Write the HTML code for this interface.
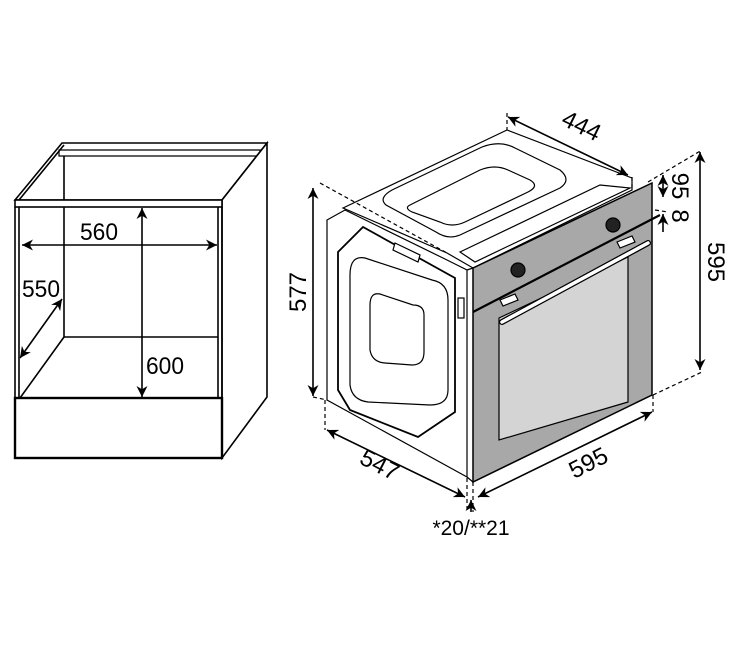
<!DOCTYPE html>
<html><head><meta charset="utf-8"><style>
html,body{margin:0;padding:0;background:#fff;}
svg{display:block;font-family:"Liberation Sans",Arial,sans-serif;}
</style></head><body>
<svg width="740" height="652" viewBox="0 0 740 652" xmlns="http://www.w3.org/2000/svg">
<defs>
<marker id="a" viewBox="0 0 10 10" refX="10" refY="5" markerWidth="12" markerHeight="11" orient="auto-start-reverse" markerUnits="userSpaceOnUse"><path d="M0,0 L10,5 L0,10 L3,5 Z" fill="#000"/></marker>
</defs>
<!-- Cabinet -->
<g fill="none" stroke="#000" stroke-width="1.6">
<polygon points="15,200 62,143 267,143 222,200" fill="#fff"/>
<line x1="19" y1="200" x2="64" y2="145"/>
<polygon points="59,150 260,150 260,156 59,156" stroke-width="1.2"/>
<line x1="64" y1="156" x2="64" y2="337"/>
<line x1="64" y1="337" x2="218" y2="337"/>
<line x1="64" y1="337" x2="20" y2="398"/>
<polygon points="222,200 267,143 267,397 222,458" fill="#fff"/>
<rect x="15" y="200" width="207" height="7" fill="#fff"/>
<line x1="15" y1="207" x2="15" y2="398"/>
<line x1="19" y1="207" x2="19" y2="398"/>
<line x1="222" y1="207" x2="222" y2="398"/>
<line x1="218" y1="207" x2="218" y2="398"/>
<rect x="15" y="398" width="207" height="60" stroke-width="2.4"/>
</g>
<g stroke="#000" stroke-width="1.6" fill="none">
<line x1="22" y1="245" x2="217" y2="245" marker-start="url(#a)" marker-end="url(#a)"/>
<line x1="142" y1="208" x2="142" y2="397" marker-start="url(#a)" marker-end="url(#a)"/>
<line x1="20" y1="358" x2="62" y2="299" marker-start="url(#a)" marker-end="url(#a)"/>
</g>
<g font-size="24" fill="#000">
<text x="80" y="240" textLength="38" lengthAdjust="spacingAndGlyphs">560</text>
<text x="22" y="297" textLength="38" lengthAdjust="spacingAndGlyphs">550</text>
<text x="146" y="374" textLength="38" lengthAdjust="spacingAndGlyphs">600</text>
</g>

<!-- Oven -->
<g stroke="#000" stroke-width="1.2" fill="#fff">
<polygon points="327,220 345,210 447,260 467,270 467,477 327,400"/>
<path d="M363,227 L338,252 L338,390 L350,410 L418,437 L455,412 L455,278 Z" fill="none" stroke-width="1.8"/>
<path d="M365,258 Q350,255 350,275 L350,385 Q352,400 368,402 L430,405 Q448,405 448,390 L448,300 Q448,283 432,280 Z" fill="none"/>
<path d="M380,294 Q370,292 370,305 L370,350 Q372,362 385,363 L412,365 Q424,365 424,352 L424,315 Q424,305 413,305 Z" fill="none"/>
<polygon points="395,243 420,255 418,262 393,250" fill="#fff"/>
<rect x="458" y="298" width="6" height="20"/>
<polygon points="343,208 507,130 632,178 632,190 473,268 447,253" />
<path d="M386,205 Q378,198 392,190 L482,147 Q500,140 515,148 L560,170 Q572,180 560,188 L460,235 Q448,240 436,232 Z" fill="none"/>
<path d="M410,205 L480,170 Q495,164 508,170 L530,180 Q540,186 528,192 L465,222 Q452,228 440,222 L412,212 Q404,208 410,205 Z" fill="none"/>
<polygon points="460,252 600,185 630,188 475,262" fill="#fff"/>
<polygon points="473,268 652,183 652,395 473,482" fill="#a8a8a8" stroke-width="1.5"/>
<polygon points="499,318 628,257 628,402 499,440" fill="#d4d4d4"/>
<line x1="473" y1="312" x2="660" y2="215" stroke-width="2.2"/>
<line x1="502" y1="322" x2="648" y2="243" stroke="#000" stroke-width="6" stroke-linecap="round"/>
<line x1="502" y1="322" x2="648" y2="243" stroke="#fff" stroke-width="3.5" stroke-linecap="round"/>
<polygon points="500,300 515,294 518,300 503,306" fill="#fff"/>
<polygon points="617,242 632,236 635,242 620,248" fill="#fff"/>
<circle cx="518" cy="270" r="7" fill="#222"/>
<circle cx="613" cy="225" r="7" fill="#222"/>
<line x1="467" y1="270" x2="473" y2="268"/>
<line x1="467" y1="477" x2="473" y2="482"/>
</g>
<g stroke="#000" stroke-width="1.2" fill="none" stroke-dasharray="4,3">
<line x1="320" y1="183" x2="447" y2="253"/>
<line x1="313" y1="397" x2="327" y2="400"/>
<line x1="325" y1="400" x2="325" y2="430"/>
<line x1="507" y1="113" x2="507" y2="130"/>
<line x1="632" y1="177" x2="632" y2="190"/>
<line x1="648" y1="182" x2="702" y2="150"/>
<line x1="653" y1="395" x2="702" y2="372"/>
<line x1="655" y1="210" x2="668" y2="212"/>
<line x1="467" y1="478" x2="467" y2="512"/>
<line x1="473" y1="482" x2="473" y2="512"/>
<line x1="653" y1="395" x2="653" y2="412"/>
</g>
<g stroke="#000" stroke-width="1.6" fill="none">
<line x1="313" y1="188" x2="313" y2="396" marker-start="url(#a)" marker-end="url(#a)"/>
<line x1="327" y1="430" x2="465" y2="497" marker-start="url(#a)" marker-end="url(#a)"/>
<line x1="478" y1="497" x2="652" y2="412" marker-start="url(#a)" marker-end="url(#a)"/>
<line x1="508" y1="117" x2="628" y2="175" marker-start="url(#a)" marker-end="url(#a)"/>
<line x1="700" y1="152" x2="700" y2="370" marker-start="url(#a)" marker-end="url(#a)"/>
<line x1="663" y1="175" x2="663" y2="197" marker-start="url(#a)" marker-end="url(#a)"/>
<line x1="663" y1="232" x2="663" y2="214" marker-end="url(#a)"/>
<line x1="471" y1="512" x2="471" y2="500" marker-end="url(#a)"/>
</g>
<g font-size="24" fill="#000">
<text transform="translate(306,292) rotate(-90)" text-anchor="middle">577</text>
<text transform="translate(376,472) rotate(27)" text-anchor="middle">547</text>
<text transform="translate(592,470) rotate(-27)" text-anchor="middle">595</text>
<text transform="translate(578,133) rotate(26)" text-anchor="middle">444</text>
<text transform="translate(708,262) rotate(90)" text-anchor="middle">595</text>
<text transform="translate(672,186) rotate(90)" text-anchor="middle">95</text>
<text transform="translate(672,216) rotate(90)" text-anchor="middle">8</text>
<text x="471" y="535" text-anchor="middle" font-size="21">*20/**21</text>
</g>
</svg>
</body></html>
